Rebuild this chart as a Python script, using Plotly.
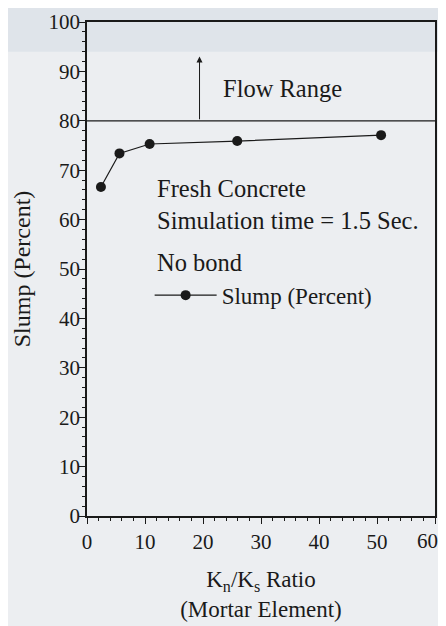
import plotly.graph_objects as go

ratio = [2.4, 5.6, 10.8, 25.9, 50.7]
slump = [66.6, 73.4, 75.3, 75.9, 77.1]
flow_limit = 80
arrow_x = 19.4
arrow_top = 93
x_ticks = [0, 10, 20, 30, 40, 50, 60]
x_tick_text = ["0", "10", "20", "30", "40", "50", "60"]
y_ticks = [0, 10, 20, 30, 40, 50, 60, 70, 80, 90, 100]

FONT = "Liberation Serif, Times New Roman, serif"
INK = "#1a1a1a"

fig = go.Figure()
fig.add_trace(go.Scatter(
    x=ratio, y=slump, mode="lines+markers", name="Slump (Percent)",
    line=dict(color=INK, width=1.2),
    marker=dict(color=INK, size=10),
))

fig.add_shape(type="line", xref="x", yref="y", x0=0, x1=60, y0=flow_limit, y1=flow_limit,
              line=dict(color=INK, width=1.2))
# scanned-page darker band at top
fig.add_shape(type="rect", xref="paper", yref="paper", x0=-0.3, x1=1.1, y0=0.94, y1=1.1,
              fillcolor="#dfe4ea", line=dict(width=0), layer="below")
fig.add_annotation(x=arrow_x, y=arrow_top, ax=arrow_x, ay=flow_limit, xref="x", yref="y",
                   axref="x", ayref="y", showarrow=True, arrowhead=2, arrowsize=1.2,
                   arrowwidth=1, arrowcolor=INK, text="")

texts = [
    ("Flow Range", 33.7, 86.5, "center"),
    ("Fresh Concrete", 11.8, 66.3, "left"),
    ("Simulation time = 1.5 Sec.", 11.8, 59.8, "left"),
    ("No bond", 11.8, 51.4, "left"),
]
for t, x, y, anc in texts:
    fig.add_annotation(x=x, y=y, xref="x", yref="y", text=t, showarrow=False,
                       xanchor=anc, yanchor="middle",
                       font=dict(family=FONT, size=24.5, color=INK))

# last x tick label drawn as an annotation, nudged left so it stays inside the page
fig.add_annotation(x=x_ticks[-1], y=0, xref="x", yref="y", text=x_tick_text[-1],
                   showarrow=False, xanchor="center", yanchor="middle",
                   xshift=-8, yshift=-25, font=dict(family=FONT, size=21, color=INK))

axis_common = dict(
    showgrid=False, zeroline=False, showline=True, linecolor=INK, linewidth=1.5,
    mirror=True, ticks="outside", ticklen=6, tickwidth=1, tickcolor=INK,
    tickfont=dict(family=FONT, size=21, color=INK), automargin=False,
)
fig.update_xaxes(range=[0, 60], tickvals=x_ticks,
                 ticktext=x_tick_text[:-1] + [""],
                 minor=dict(dtick=2, ticks="outside", ticklen=3, tickcolor=INK),
                 title=dict(text="K<sub>n</sub>/K<sub>s</sub> Ratio<br>(Mortar Element)",
                            font=dict(family=FONT, size=23, color=INK), standoff=18),
                 **axis_common)
fig.update_yaxes(range=[0, 100], tickvals=y_ticks, ticklabelstandoff=-5,
                 minor=dict(dtick=2, ticks="outside", ticklen=3, tickcolor=INK),
                 title=dict(text="Slump (Percent)",
                            font=dict(family=FONT, size=24, color=INK), standoff=11),
                 **axis_common)

# page has an 8px body margin, so the figure is offset by (8, 8)
fig.update_layout(
    width=438, height=618,
    font=dict(family=FONT, color=INK),
    margin=dict(l=79, r=11, t=14, b=110),
    paper_bgcolor="#eceef1", plot_bgcolor="rgba(0,0,0,0)",
    showlegend=True,
    legend=dict(x=0.18, y=0.447, xanchor="left", yanchor="middle",
                bgcolor="rgba(0,0,0,0)", itemwidth=62,
                font=dict(family=FONT, size=23, color=INK)),
)

fig.write_html("out.html")
